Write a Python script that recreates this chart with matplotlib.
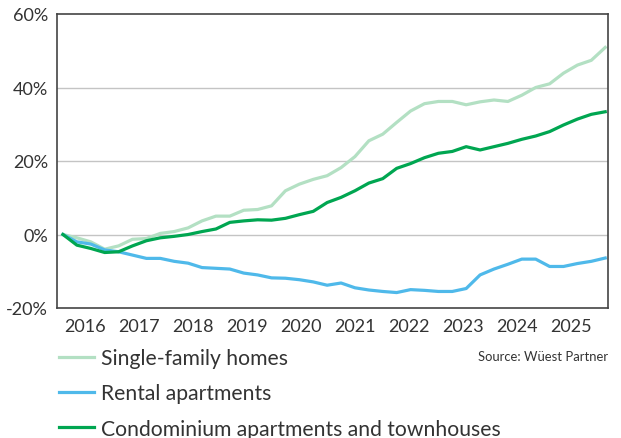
import numpy as np
import matplotlib
matplotlib.use("Agg")
import matplotlib.pyplot as plt

plt.rcParams['font.family'] = ['Lato', 'DejaVu Sans']

# quarterly index values (% change since start)
single_family = [0, -0.9, -2.0, -4.0, -3.1, -1.3, -1.1, 0.3, 0.8, 1.8,
                 3.7, 5.0, 5.0, 6.6, 6.8, 7.8, 11.9, 13.7, 15.0, 16.0,
                 18.2, 21.2, 25.5, 27.3, 30.5, 33.6, 35.6, 36.2, 36.2, 35.3,
                 36.1, 36.6, 36.2, 37.9, 40.0, 41.0, 43.9, 46.1, 47.4, 50.9]
rental = [0, -2.0, -2.6, -4.2, -4.7, -5.6, -6.5, -6.5, -7.3, -7.8,
          -9.0, -9.2, -9.4, -10.5, -11.0, -11.8, -11.9, -12.3, -12.9, -13.8,
          -13.2, -14.5, -15.1, -15.5, -15.8, -15.0, -15.2, -15.5, -15.5, -14.7,
          -11.0, -9.4, -8.1, -6.7, -6.7, -8.7, -8.7, -7.9, -7.3, -6.4]
condo = [0, -2.9, -3.8, -4.9, -4.7, -3.1, -1.7, -0.9, -0.5, 0.0,
         0.8, 1.5, 3.3, 3.7, 4.0, 3.9, 4.4, 5.4, 6.3, 8.7,
         10.1, 11.9, 14.0, 15.2, 18.0, 19.3, 20.9, 22.1, 22.6, 23.9,
         23.0, 23.9, 24.8, 25.9, 26.8, 28.0, 29.8, 31.4, 32.7, 33.4]
years = [str(y) for y in range(2016, 2026)]
y_ticks = [-20, 0, 20, 40, 60]

x = np.arange(len(condo))

fig = plt.figure(figsize=(6.21, 4.39), dpi=100)
ax = fig.add_axes([57 / 621, 1 - 309 / 439, 551 / 621, 294 / 439])

ax.plot(x, single_family, color='#b3e0c3', linewidth=2.3, label='Single-family homes')
ax.plot(x, rental, color='#4fb9ea', linewidth=2.3, label='Rental apartments')
ax.plot(x, condo, color='#00a651', linewidth=2.3, label='Condominium apartments and townhouses')

ax.set_ylim(-20, 60)
ax.set_xlim(-0.43, 39.2)
ax.set_yticks(y_ticks)
ax.set_yticklabels([f"{v}%" for v in y_ticks], fontsize=13, color='#333333')
ax.set_xticks(np.linspace(1.56, 1.56 + 9 * 3.89, 10))
ax.set_xticklabels(years, fontsize=13, color='#333333')
ax.tick_params(axis='y', length=0, pad=6.5)
ax.tick_params(axis='x', length=0, pad=7)
for v in [0, 20, 40]:
    ax.axhline(v, color='#c4c4c4', linewidth=1, zorder=0)
for s in ax.spines.values():
    s.set_color('#444444')
    s.set_linewidth(1.2)

fig.legend(loc='upper left', bbox_to_anchor=(59 / 621, 1 - 349 / 439),
           frameon=False, fontsize=15.2, handlelength=1.65, handletextpad=0.33,
           labelspacing=0.73, borderpad=0, borderaxespad=0, labelcolor='#333333')
fig.text(608 / 621, 1 - 357 / 439, "Source: Wüest Partner", ha='right', va='center',
         fontsize=9.4, color='#333333')

fig.savefig("out.png", dpi=100)
